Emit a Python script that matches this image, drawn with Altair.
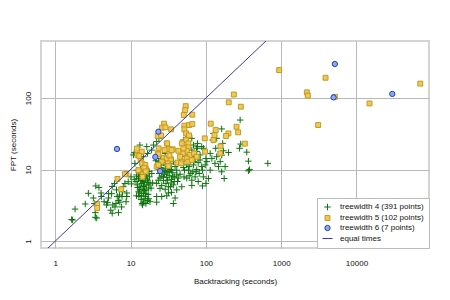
import altair as alt
import pandas as pd

# ---- data (seconds) ----
# treewidth 4 (green crosses)
tw4_bt = [
    1.65, 1.83, 2.5, 2.75, 3.2, 3.3, 3.4, 3.4, 3.45, 3.8, 4.05, 4.45, 5.1, 4.95, 5.45,
    5.7, 6.9, 5.8, 6.2, 6.9, 7.2, 6.1, 5.7, 6.5, 8.4, 8.9, 10.3, 7.8, 7.7, 8.9,
    7.1, 8.7, 5.6, 5.1, 10.1, 3.55, 1.7, 4.8, 6.4, 7.6, 8.0, 9.3, 6.65, 4.1,
    11.2, 13.3, 11.4, 10.9, 16.4, 16.8, 20.1, 19.0, 14.8, 22.2, 23.8,
    12.0, 13.0, 14.0, 15.0, 16.4, 17.8, 19.1, 12.7, 13.6, 14.4, 15.5, 16.8, 18.1, 12.3, 13.3,
    14.2, 15.0, 16.0, 17.4, 13.0, 13.9, 14.8, 15.8, 17.1, 13.8, 14.8, 16.0, 18.1, 22.2, 14.4,
    19.6, 11.8, 12.8, 15.2, 14.0, 16.4, 13.3, 15.1, 16.0, 12.9, 17.4, 13.6, 15.5, 12.0, 11.2,
    12.4, 14.6, 13.3, 15.9, 17.2, 12.8, 15.3, 16.8, 14.2, 12.0, 18.7, 17.6, 16.0, 13.8, 14.8,
    23.4, 25.0, 27.3, 29.5, 31.8, 34.0, 37.0, 39.0, 24.6, 27.0, 28.8, 31.3, 33.4, 36.3, 41.0,
    24.1, 26.0, 28.0, 30.2, 32.6, 35.0, 38.0, 27.3, 29.5, 32.0, 34.5, 37.0, 42.0, 28.8, 31.8,
    30.2, 35.0, 39.0, 24.6, 22.2, 25.9, 22.2, 37.0, 34.0, 28.8, 21.7, 45.4, 43.0, 47.8, 41.0,
    55.7, 60.0, 24.6, 35.0, 30.2,
    25.5, 32.6, 27.3, 31.0, 36.3, 23.4, 28.8, 25.9, 34.0, 41.0, 38.0, 31.8, 23.8,
    50.3, 58.6, 65.0, 68.3, 77.5, 88.0, 65.0, 75.6, 83.7, 92.7, 72.0, 61.7, 68.3, 79.0, 88.0,
    98.0, 55.7, 50.3, 58.6, 67.0, 75.6, 81.5, 92.7, 72.0, 65.0, 79.0, 90.0, 55.7, 47.8, 68.3,
    75.6, 100.0, 47.8,
    60.0, 69.5, 83.7, 74.0, 63.0, 52.0, 90.0, 103.0, 77.5, 58.6, 65.0, 51.3,
    285, 162, 126, 139, 123, 167, 135, 171, 114, 120, 139, 155, 132, 114, 147,
    180, 162, 175, 200, 280, 290, 349, 367, 380, 367, 664, 162, 108, 100,
]
tw4_fpt = [
    2.0, 2.8, 3.3, 4.65, 4.0, 3.35, 2.5, 2.15, 5.9, 5.6, 4.7, 3.55, 4.0, 3.45, 2.7,
    2.45, 2.5, 3.2, 3.0, 3.7, 3.5, 6.4, 5.8, 5.2, 6.4, 4.7, 6.3, 4.9, 4.2, 4.2,
    4.4, 3.55, 4.6, 4.6, 7.9, 2.1, 1.97, 3.2, 3.35, 3.0, 5.75, 6.75, 4.2, 4.2,
    17.2, 22.0, 12.2, 16.0, 20.9, 16.8, 22.0, 18.7, 15.1, 24.6, 27.3,
    9.8, 9.0, 8.4, 9.4, 8.7, 7.9, 8.8, 7.5, 7.0, 7.4, 6.6, 7.1, 6.3, 6.1, 5.75,
    5.3, 5.9, 5.2, 5.5, 4.7, 4.35, 4.6, 4.2, 4.5, 3.8, 3.5, 3.35, 3.55, 3.5, 3.2,
    6.5, 6.8, 8.0, 7.9, 6.4, 6.1, 5.2, 3.9, 4.6, 4.2, 3.9, 10.3, 11.0, 8.4, 7.3,
    5.6, 6.8, 7.9, 7.4, 6.6, 4.9, 5.1, 3.7, 3.35, 4.3, 5.5, 9.4, 8.2, 9.4, 5.8,
    12.9, 14.3, 12.5, 11.6, 13.2, 12.0, 12.9, 11.0, 10.7, 9.8, 10.4, 9.4, 10.0, 9.0, 9.8,
    8.8, 8.1, 8.6, 7.8, 8.3, 7.3, 7.9, 7.0, 6.4, 5.75, 6.5, 6.1, 6.8, 5.3, 4.7,
    4.3, 4.8, 4.0, 5.45, 6.4, 4.2, 4.2, 3.35, 14.8, 16.8, 13.3, 8.6, 7.6, 5.75, 5.2,
    7.6, 8.2, 7.6, 9.8, 9.0,
    11.6, 10.9, 7.9, 7.1, 7.9, 7.1, 9.4, 6.0, 5.75, 8.4, 6.8, 11.3, 10.1,
    25.9, 28.8, 27.3, 22.0, 23.2, 20.9, 18.7, 17.8, 16.0, 19.8, 14.3, 12.9, 11.6, 12.5, 11.0,
    11.6, 11.6, 10.7, 9.8, 9.3, 10.0, 8.8, 7.9, 7.9, 7.1, 6.8, 5.9, 13.6, 15.1, 16.0,
    19.8, 14.3, 12.9,
    11.0, 12.9, 13.6, 9.3, 8.8, 9.8, 9.8, 12.9, 20.9, 16.0, 6.0, 7.9,
    49.2, 37.0, 32.0, 27.3, 25.9, 23.2, 19.8, 18.3, 16.8, 14.3, 15.1, 12.9, 12.2, 9.8, 11.0,
    11.0, 9.3, 7.5, 17.3, 19.8, 22.7, 17.5, 13.1, 10.0, 9.6, 12.2, 15.9, 7.5, 6.4,
]

# treewidth 5 (yellow squares)
tw5_bt = [
    940, 3880, 2190, 2260, 5160, 14900, 3100, 70300, 235, 201, 291, 116, 135, 255, 268,
    199, 329, 156, 155, 96.6, 126, 185, 130,
    54, 53, 50.8, 66, 51.8, 51.8, 59.8, 54.6, 54.6, 58.6, 51.3, 58.6, 55.7, 49.3, 61.6,
    69.7, 55.7, 47.8, 58.6, 64.9, 75.5, 45.4, 43.1, 41.9, 66, 59.8, 47.8, 50.3, 46.8, 97.5,
    27.8, 26.2, 29.0, 34.5, 22.9, 25.4, 30.2, 23.6, 31.8, 36.3, 12.1, 14.1, 12.3, 13.6, 14.1,
    15.7, 12.9, 14.5, 16.0, 22.9, 27.3, 30.2, 34.1, 22.2, 25.9, 23.4, 23.4, 28.2, 30.6, 32.8,
    35.0, 31.3, 31.8, 13.0, 15.2, 12.7, 14.4, 15.9, 8.8,
    8.4, 6.7, 7.5, 3.6, 3.6,
]
tw5_fpt = [
    246, 192, 120, 108, 104, 84, 41.9, 159, 112, 87, 75.7, 43.8, 35.7, 39.7, 33.1,
    32, 23, 21.1, 16.8, 27.3, 25.9, 29.4, 30.3,
    77, 68, 57.8, 58.5, 41, 36.5, 41.9, 32, 25.9, 23.2, 20.9, 20.4, 18.3, 16.8, 16.0,
    16.8, 14.3, 12.9, 12.9, 13.6, 15.1, 15.1, 18.3, 12.5, 43.3, 30, 23.2, 19.8, 12.2, 17.8,
    43.8, 38.5, 38.9, 36.5, 29.4, 30.0, 23.2, 19.8, 19.4, 19.2, 19.6, 17.8, 16.0, 13.6, 12.2,
    11.6, 9.6, 8.6, 10.0, 16.8, 14.6, 14.3, 13.9, 11.0, 12.9, 11.6, 16.3, 18.7, 23.2, 15.8,
    18.7, 12.2, 11.2, 15.5, 10.6, 9.8, 7.9, 9.4, 8.7,
    8.6, 7.4, 5.3, 3.3, 2.9,
]

# treewidth 6 (blue circles)
tw6_bt = [6.6, 23.4, 21.3, 24.6, 5160, 4960, 29900]
tw6_fpt = [19.4, 33.8, 15.0, 9.5, 299, 102, 114]

# equal-times reference line y = x
equal_t = [0.1, 100000]

series = ["treewidth 4 (391 points)", "treewidth 5 (102 points)",
          "treewidth 6 (7 points)", "equal times"]
x_ticks = [1, 10, 100, 1000, 10000]
y_ticks = [1, 10, 100]

rows = []
for lab, xs, ys in [(series[0], tw4_bt, tw4_fpt), (series[1], tw5_bt, tw5_fpt),
                    (series[2], tw6_bt, tw6_fpt)]:
    rows += [{"bt": a, "fpt": b, "series": lab} for a, b in zip(xs, ys)]
pts = pd.DataFrame(rows)
pts["order"] = range(len(pts))
line_df = pd.DataFrame({"bt": equal_t, "fpt": equal_t})

FONT = "Liberation Sans"
CROSS = "M-1,0H1M0,-1V1"
LINE_COL = "#3a3ab0"

xscale = alt.Scale(type="log", domain=[0.646, 91800], nice=False)
yscale = alt.Scale(type="log", domain=[0.80, 627], nice=False)

legend = alt.Legend(title=None, orient="bottom-right", offset=0, padding=5,
                    rowPadding=0, labelFontSize=8, labelFont=FONT, labelColor="#111",
                    labelOffset=7, labelLimit=0, strokeColor="#bbbbbb",
                    fillColor="white", symbolStrokeWidth=1, cornerRadius=0)

points = alt.Chart(pts).mark_point(opacity=1, strokeWidth=1, filled=False).encode(
    x=alt.X("bt:Q", scale=xscale,
            axis=alt.Axis(values=x_ticks, format="d", title="Backtracking (seconds)",
                          labelPadding=11, titlePadding=10)),
    y=alt.Y("fpt:Q", scale=yscale,
            axis=alt.Axis(values=y_ticks, format="d", title="FPT (seconds)",
                          labelAngle=-90, labelAlign="center", labelBaseline="bottom",
                          labelPadding=9, titlePadding=7)),
    shape=alt.Shape("series:N", scale=alt.Scale(domain=series,
                    range=[CROSS, "square", "circle", "stroke"]), legend=legend),
    stroke=alt.Stroke("series:N", scale=alt.Scale(domain=series,
                      range=["#0c740c", "#c49a1c", "#2040c0", LINE_COL]), legend=legend),
    fill=alt.Fill("series:N", scale=alt.Scale(domain=series,
                  range=["transparent", "#efc85a", "#90a8f0", "transparent"]), legend=legend),
    size=alt.Size("series:N", scale=alt.Scale(type="ordinal", domain=series,
                  range=[42, 24, 28, 100]), legend=legend),
    order=alt.Order("order:Q"),
)

eq_line = alt.Chart(line_df).mark_line(clip=True, strokeWidth=1, color=LINE_COL).encode(
    x=alt.X("bt:Q", scale=xscale),
    y=alt.Y("fpt:Q", scale=yscale),
)

chart = alt.layer(points, eq_line).properties(
    width=388, height=207,
    autosize=alt.AutoSizeParams(type="none"),
    padding={"left": 33, "top": 33, "right": 13, "bottom": 44},
).configure_view(
    stroke="#d4d4d4", strokeWidth=2
).configure_axis(
    grid=True, gridColor="#b8b8b8", gridWidth=1, domain=False, ticks=False,
    labelFont=FONT, labelFontSize=8, labelColor="#111",
    titleFont=FONT, titleFontSize=8, titleFontWeight="normal", titleColor="#111",
)

chart.save("out.html", embed_options={"renderer": "svg", "actions": False})
